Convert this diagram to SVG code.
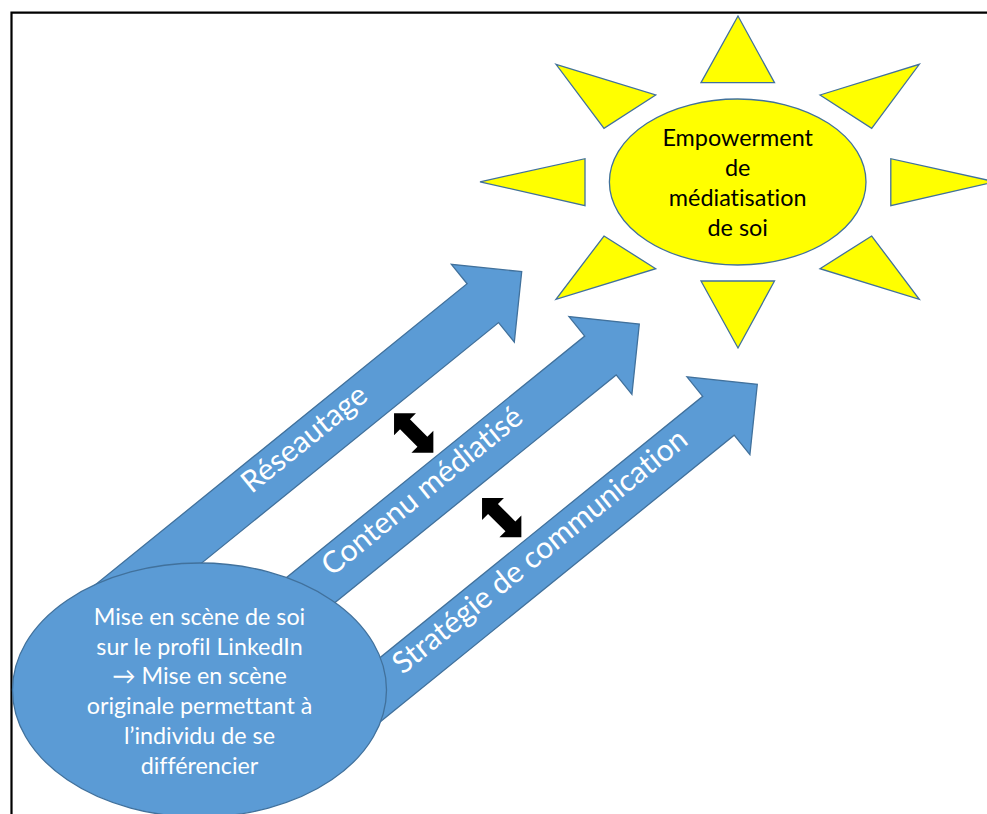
<svg xmlns="http://www.w3.org/2000/svg" width="987" height="814" viewBox="0 0 987 814">
<style>
text{font-variant-ligatures:none;font-feature-settings:"liga" 0,"clig" 0}
.bl{fill:#5B9BD5;stroke:#41719C;stroke-width:1.3;stroke-linejoin:miter}
.ray{fill:#FFFF00;stroke:#41719C;stroke-width:1.3}
.lbl{font-family:Lato,"Liberation Sans",sans-serif;font-size:30.2px;fill:#FFFFFF;text-anchor:middle}
.wt{font-family:Lato,"DejaVu Sans",sans-serif;font-size:23.3px;fill:#FFFFFF;text-anchor:middle}
.bk{font-family:Lato,"Liberation Sans",sans-serif;font-size:23.4px;fill:#000000;text-anchor:middle}
.dbl{fill:#000000}
</style>
<rect width="987" height="814" fill="#FFFFFF"/>
<g id="frame"><path d="M11.5,814 V12.6 H987" fill="none" stroke="#000000" stroke-width="2.2"/></g>
<g id="connectors">
  <g id="arrow-reseautage" transform="translate(521.7,271.7) rotate(-39)">
    <polygon class="bl" points="0,0 -50,50 -50,25 -590,25 -590,-25 -50,-25 -50,-50"/>
    <text class="lbl" x="-274" y="3">Réseautage</text>
  </g>
  <g id="arrow-contenu" transform="translate(639.3,324) rotate(-39)">
    <polygon class="bl" points="0,0 -50,50 -50,25 -500,25 -500,-25 -50,-25 -50,-50"/>
    <text class="lbl" x="-274" y="3">Contenu médiatisé</text>
  </g>
  <g id="arrow-strategie" transform="translate(757.3,384.3) rotate(-39)">
    <polygon class="bl" points="0,0 -50,50 -50,25 -540,25 -540,-25 -50,-25 -50,-50"/>
    <text class="lbl" x="-274" y="3">Stratégie de communication</text>
  </g>
  <polygon id="dbl-1" class="dbl" transform="translate(413.7,433) rotate(45)" points="-27.8,0 -12.3,-15.5 -12.3,-7 12.3,-7 12.3,-15.5 27.8,0 12.3,15.5 12.3,7 -12.3,7 -12.3,15.5"/>
  <polygon id="dbl-2" class="dbl" transform="translate(501.7,517.7) rotate(45)" points="-27.8,0 -12.3,-15.5 -12.3,-7 12.3,-7 12.3,-15.5 27.8,0 12.3,15.5 12.3,7 -12.3,7 -12.3,15.5"/>
</g>
<g id="node-mise-en-scene">
  <ellipse class="bl" cx="199.5" cy="690" rx="187" ry="127"/>
  <text class="wt" x="199.5" y="625">Mise en scène de soi</text>
  <text class="wt" x="199.5" y="654.7">sur le profil LinkedIn</text>
  <text class="wt" x="199.5" y="684.4">→ Mise en scène</text>
  <text class="wt" x="199.5" y="714.1">originale permettant à</text>
  <text class="wt" x="199.5" y="743.8">l’individu de se</text>
  <text class="wt" x="199.5" y="773.5">différencier</text>
</g>
<g id="node-empowerment">
  <polygon class="ray" points="738,16 701,82.7 774.5,82.7"/>
  <polygon class="ray" points="701,281 774.5,281 738,348"/>
  <polygon class="ray" points="480,181.8 585,158.7 585,205.7"/>
  <polygon class="ray" points="890.8,158.7 890.8,205.7 995,181.8"/>
  <polygon class="ray" points="556,64.3 655.7,95 604,128.3"/>
  <polygon class="ray" points="820,95 919.3,64.3 871.7,128.3"/>
  <polygon class="ray" points="604,236 655.7,268.7 556,299.3"/>
  <polygon class="ray" points="871.7,236 820,268.7 919.3,299.3"/>
  <ellipse class="ray" cx="737.7" cy="182" rx="128.3" ry="83"/>
  <text class="bk" x="737.7" y="145.5">Empowerment</text>
  <text class="bk" x="737.7" y="175.5">de</text>
  <text class="bk" x="737.7" y="205.5">médiatisation</text>
  <text class="bk" x="737.7" y="235.5">de soi</text>
</g>
</svg>
